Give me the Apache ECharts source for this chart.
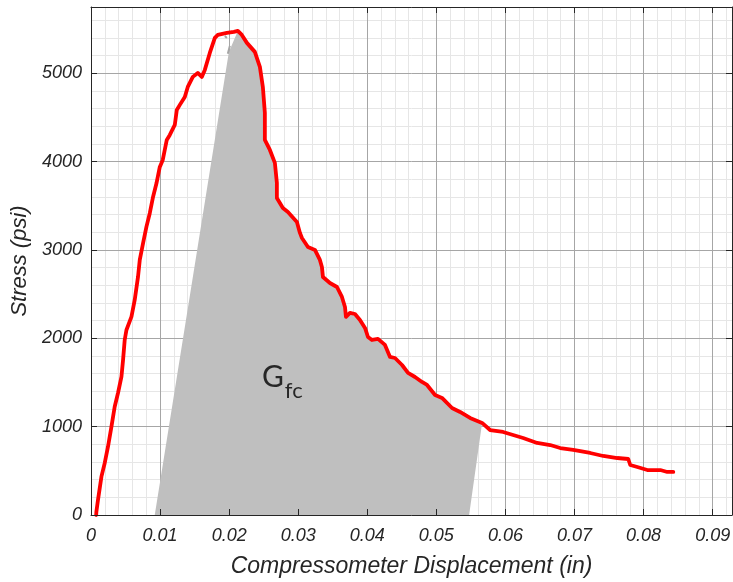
<!DOCTYPE html>
<html>
<head>
<meta charset="utf-8">
<script src="https://cdn.jsdelivr.net/npm/echarts@6/dist/echarts.min.js"></script>
<style>
html,body{margin:0;padding:0;background:#fff;}
#chart{width:733px;height:582px;}
</style>
</head>
<body>
<div id="chart"></div>
<script>
// Red curve: compressometer displacement (in) vs stress (psi)
const dispIn = [0.00075,0.00078,0.00101,0.00151,0.00199,0.00246,0.00296,0.00343,0.00391,0.00441,
  0.00464,0.00488,0.00513,0.00586,0.00633,0.00681,0.00706,0.00754,0.00803,0.00851,
  0.00899,0.00948,0.00996,0.01039,0.01097,0.01141,0.01213,0.01242,0.01286,0.01358,
  0.01401,0.01474,0.01546,0.01604,0.01648,0.01720,0.01793,0.01836,0.01967,0.02068,
  0.02126,0.02184,0.02257,0.02372,0.02445,0.02488,0.02517,0.02517,0.02590,0.02662,
  0.02691,0.02691,0.02778,0.02851,0.02981,0.03025,0.03054,0.03141,0.03242,0.03314,
  0.03343,0.03358,0.03459,0.03561,0.03633,0.03677,0.03691,0.03749,0.03822,0.03894,
  0.03967,0.04010,0.04068,0.04155,0.04256,0.04329,0.04401,0.04503,0.04590,0.04691,
  0.04792,0.04865,0.04981,0.05082,0.05227,0.05343,0.05488,0.05662,0.05778,0.05966,
  0.06111,0.06256,0.06459,0.06648,0.06793,0.06981,0.07227,0.07416,0.07619,0.07778,
  0.07807,0.07909,0.08054,0.08242,0.08343,0.08430];
const stressPsi = [0,37,170,434,589,773,1000,1226,1381,1566,
  1755,1981,2094,2245,2434,2698,2887,3076,3264,3416,
  3603,3755,3940,4019,4245,4302,4415,4585,4642,4732,
  4845,4959,5004,4959,5038,5230,5400,5434,5457,5468,
  5479,5434,5344,5242,5072,4845,4551,4245,4132,3985,
  3759,3589,3476,3430,3317,3193,3136,3034,3000,2887,
  2807,2694,2626,2581,2468,2355,2242,2287,2275,2208,
  2117,2015,1981,1993,1925,1789,1777,1698,1608,1562,
  1506,1472,1358,1325,1211,1166,1098,1042,962,940,
  906,872,815,792,758,736,702,668,645,634,
  566,543,509,509,487,487];

// Shaded G_fc region: left unloading edge, then the curve from peak, then right edge
const gfcLeftX = [0.00923, 0.01996];
const gfcLeftY = [0, 5242];
const gfcCurveFrom = 40, gfcCurveTo = 87;
const gfcRightX = [0.05474];
const gfcRightY = [0];

// small grey unloading fragments near the peak
const fragX = [0.01938, 0.01967, null, 0.01981, 0.02010];
const fragY = [5422, 5400, null, 5220, 5310];

const xTicks = [0,0.01,0.02,0.03,0.04,0.05,0.06,0.07,0.08,0.09];
const yTicks = [0,1000,2000,3000,4000,5000];
const xMax = 0.0928, yMax = 5750;
const labelText = ['G', 'fc'];

const gfcX = gfcLeftX.concat(dispIn.slice(gfcCurveFrom, gfcCurveTo + 1), gfcRightX);
const gfcY = gfcLeftY.concat(stressPsi.slice(gfcCurveFrom, gfcCurveTo + 1), gfcRightY);

const txtCol = '#262626';
const font = 'Liberation Sans';
const xStep = xTicks[1] - xTicks[0], yStep = yTicks[1] - yTicks[0];

function boxAxis(extra) {
  return Object.assign({
    type: 'value', min: 0, z: 5,
    axisLine: {show: true, onZero: false, lineStyle: {color: txtCol, width: 1}},
    axisTick: {show: true, inside: true, length: 6, lineStyle: {color: txtCol}},
    axisLabel: {show: false},
    splitLine: {show: false}
  }, extra);
}
function gridAxis(extra, color, z) {
  return Object.assign({
    type: 'value', min: 0, z: z,
    axisLine: {show: false}, axisTick: {show: false}, axisLabel: {show: false},
    splitLine: {show: true, lineStyle: {color: color, width: 1}}
  }, extra);
}

const chart = echarts.init(document.getElementById('chart'));
chart.setOption({
  animation: false,
  backgroundColor: '#fff',
  grid: {left: 91, right: 1, top: 7, bottom: 67, containLabel: false, outerBoundsMode: 'none'},
  xAxis: [
    boxAxis({position: 'bottom', max: xMax, interval: xStep,
      axisLabel: {show: true, showMaxLabel: false, fontSize: 18, fontStyle: 'italic', fontFamily: font,
        color: txtCol, margin: 12,
        formatter: v => v === 0 ? '0' : v.toFixed(2)},
      name: 'Compressometer Displacement (in)', nameLocation: 'middle', nameGap: 40,
      nameTextStyle: {fontSize: 23, fontStyle: 'italic', fontFamily: font, color: txtCol}}),
    boxAxis({position: 'top', max: xMax, interval: xStep}),
    gridAxis({position: 'bottom', max: xMax, interval: xStep}, '#a6a6a6', 1),
    gridAxis({position: 'bottom', max: xMax, interval: xStep / 5}, '#e6e6e6', 0)
  ],
  yAxis: [
    boxAxis({position: 'left', max: yMax, interval: yStep,
      axisLabel: {show: true, showMaxLabel: false, fontSize: 18, fontStyle: 'italic', fontFamily: font,
        color: txtCol, margin: 9, formatter: v => String(v)},
      name: 'Stress (psi)', nameLocation: 'middle', nameGap: 56,
      nameTextStyle: {fontSize: 22, fontStyle: 'italic', fontFamily: font, color: txtCol}}),
    boxAxis({position: 'right', max: yMax, interval: yStep}),
    gridAxis({position: 'left', max: yMax, interval: yStep}, '#a6a6a6', 1),
    gridAxis({position: 'left', max: yMax, interval: yStep / 5}, '#e6e6e6', 0)
  ],
  series: [
    {
      type: 'custom', z: 2, silent: true,
      data: [[gfcX[0], gfcY[0]]],
      renderItem: function (params, api) {
        if (params.dataIndex !== 0) return;
        const pts = gfcX.map((x, i) => api.coord([x, gfcY[i]]));
        return {type: 'polygon', shape: {points: pts}, style: {fill: '#bfbfbf', stroke: null}};
      }
    },
    {
      type: 'line', z: 3, symbol: 'none', silent: true, connectNulls: false,
      data: fragX.map((x, i) => x === null ? [null, null] : [x, fragY[i]]),
      lineStyle: {color: '#a6a6a6', width: 2}
    },
    {
      type: 'line', z: 4, symbol: 'none', silent: true,
      data: dispIn.map((x, i) => [x, stressPsi[i]]),
      lineStyle: {color: '#ff0000', width: 3.8, cap: 'round', join: 'round'}
    },
    {
      type: 'scatter', z: 4, symbolSize: 0, silent: true,
      data: [[0.0277, 1590]],
      label: {
        show: true, position: 'inside',
        formatter: '{g|' + labelText[0] + '}{s|' + labelText[1] + '}',
        rich: {
          g: {fontSize: 30, fontFamily: 'Lato', color: '#000', verticalAlign: 'bottom', lineHeight: 36},
          s: {fontSize: 22, fontFamily: 'Lato', color: '#000', verticalAlign: 'bottom', lineHeight: 36, padding: [0, 0, -9, 1]}
        }
      }
    }
  ]
});
</script>
</body>
</html>
